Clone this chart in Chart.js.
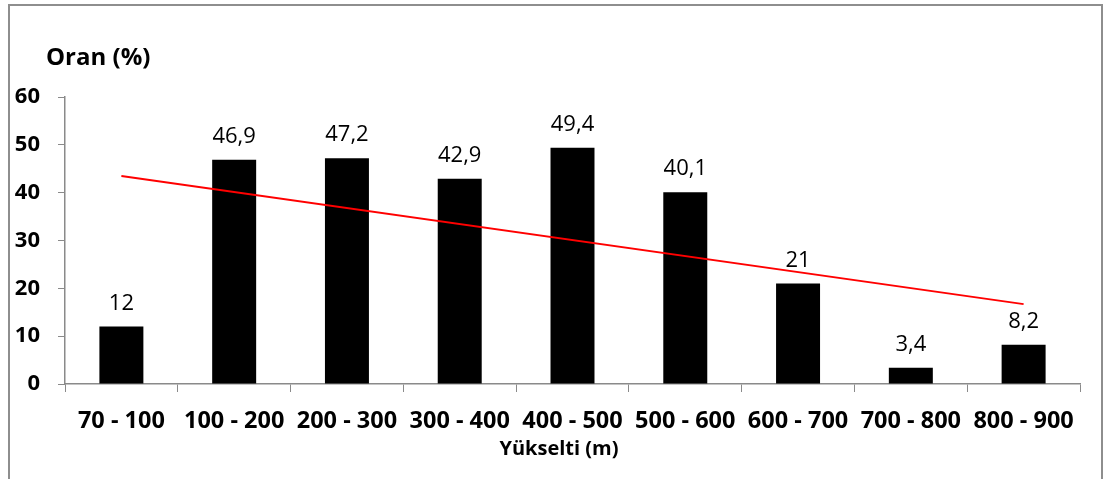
<!DOCTYPE html>
<html>
<head>
<meta charset="utf-8">
<script src="https://cdn.jsdelivr.net/npm/chart.js@4/dist/chart.umd.min.js"></script>
<style>
  html, body { margin: 0; padding: 0; background: #fff; }
  .wrap { position: relative; width: 1105px; height: 479px; overflow: hidden; }
  .frame { position: absolute; left: 8px; top: 4px; width: 1095px; height: 520px; border: 2px solid #8e8e8e; box-sizing: border-box; }
  canvas { position: absolute; left: 0; top: 0; }
</style>
</head>
<body>
<div class="wrap">
  <div class="frame"></div>
  <canvas id="chart" width="1105" height="479"></canvas>
</div>
<script>
// Elevation bands and share of area (%)
const categories = ["70 - 100", "100 - 200", "200 - 300", "300 - 400", "400 - 500", "500 - 600", "600 - 700", "700 - 800", "800 - 900"];
const values = [12, 46.9, 47.2, 42.9, 49.4, 40.1, 21, 3.4, 8.2];
const valueLabels = ["12", "46,9", "47,2", "42,9", "49,4", "40,1", "21", "3,4", "8,2"];
// Linear trend line, ends
const trend = [43.5, null, null, null, null, null, null, null, 16.7];
const yTicks = [0, 10, 20, 30, 40, 50, 60];

const FONT = "'Open Sans', sans-serif";
const AXIS = "#8a8a8a";

// value labels above the bars + axis titles
const labelsPlugin = {
  id: "labels",
  afterDatasetsDraw(chart) {
    const ctx = chart.ctx;
    const meta = chart.getDatasetMeta(1);
    ctx.save();
    ctx.fillStyle = "#000";
    ctx.textAlign = "center";
    ctx.textBaseline = "alphabetic";
    ctx.font = "22px " + FONT;
    meta.data.forEach((bar, i) => {
      ctx.fillText(valueLabels[i], bar.x, bar.y - 17);
    });

    ctx.textAlign = "left";
    ctx.textBaseline = "middle";
    ctx.font = "bold 24px " + FONT;
    ctx.fillText("Oran (%)", 46, 58);

    ctx.textAlign = "center";
    ctx.font = "bold 20px " + FONT;
    ctx.fillText("Yükselti (m)", 559, 449);
    ctx.restore();
  }
};

new Chart(document.getElementById("chart"), {
  data: {
    labels: categories,
    datasets: [
      {
        type: "line",
        data: trend,
        spanGaps: true,
        borderColor: "#ff0000",
        borderWidth: 2,
        pointRadius: 0,
        order: 0
      },
      {
        type: "bar",
        data: values,
        backgroundColor: "#000000",
        categoryPercentage: 1,
        barPercentage: 0.39,
        order: 1
      }
    ]
  },
  options: {
    responsive: false,
    animation: false,
    layout: { padding: { top: 97, right: 25, left: 0, bottom: 0 } },
    plugins: { legend: { display: false }, tooltip: { enabled: false } },
    scales: {
      x: {
        offset: true,
        grid: { display: true, drawOnChartArea: false, drawTicks: true, tickLength: 8, color: AXIS, offset: true },
        border: { color: AXIS, width: 1.5 },
        ticks: { color: "#000", font: { family: FONT, size: 23.5, weight: "bold" }, padding: 15, maxRotation: 0, autoSkip: false },
        afterFit(scale) { scale.height = 95; }
      },
      y: {
        min: 0,
        max: 60,
        afterBuildTicks(scale) { scale.ticks = yTicks.map(v => ({ value: v })); },
        grid: { display: true, drawOnChartArea: false, drawTicks: true, tickLength: 7, color: AXIS },
        border: { color: AXIS, width: 1.5 },
        ticks: { color: "#000", font: { family: FONT, size: 22, weight: "bold" }, padding: 18 },
        afterFit(scale) { scale.width = 65; }
      }
    }
  },
  plugins: [labelsPlugin]
});
</script>
</body>
</html>
